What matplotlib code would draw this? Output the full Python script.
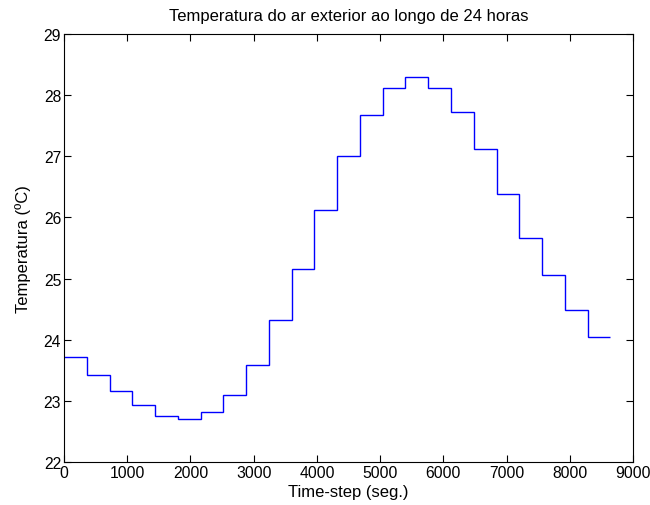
import numpy as np
import matplotlib
matplotlib.use('Agg')
import matplotlib.pyplot as plt

plt.rcParams['font.family'] = ['Liberation Sans', 'DejaVu Sans']

# temperatura em cada intervalo de 360 s
temp = [23.71, 23.42, 23.16, 22.93, 22.75, 22.71, 22.81, 23.10,
        23.59, 24.33, 25.16, 26.12, 27.00, 27.67, 28.12, 28.29,
        28.12, 27.73, 27.12, 26.38, 25.67, 25.05, 24.49, 24.04]
dt = 360
edges = np.arange(len(temp) + 1) * dt

fig = plt.figure(figsize=(6.5, 5.06), dpi=100)
ax = fig.add_axes([0.0985, 0.085, 0.8755, 0.846])

ax.stairs(temp, edges, baseline=None, color='#0000ff', linewidth=1.0)

ax.set_xlim(0, 9000)
ax.set_ylim(22, 29)
ax.set_xticks(np.arange(0, 9001, 1000))
ax.set_yticks(np.arange(22, 30, 1))
ax.tick_params(direction='in', top=True, right=True, labelsize=11.3,
               length=5, width=0.8, pad=2)
for s in ax.spines.values():
    s.set_linewidth(0.8)

ax.set_title('Temperatura do ar exterior ao longo de 24 horas', fontsize=12, pad=10)
ax.set_xlabel('Time-step (seg.)', fontsize=12, labelpad=3)
ax.set_ylabel('Temperatura (ºC)', fontsize=12, labelpad=9)

fig.savefig('out.png', dpi=100)
